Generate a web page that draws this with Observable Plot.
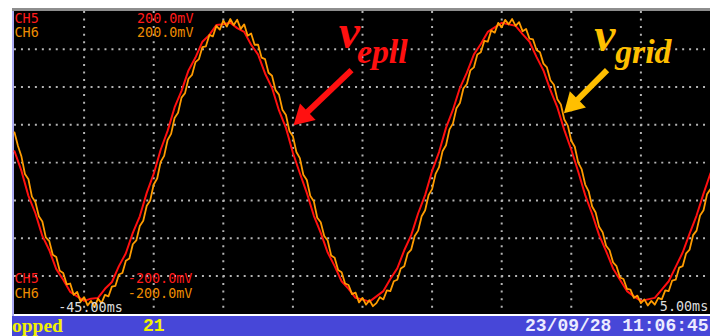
<!DOCTYPE html>
<html><head><meta charset="utf-8">
<script src="https://cdn.jsdelivr.net/npm/d3@7"></script>
<script src="https://cdn.jsdelivr.net/npm/@observablehq/plot@0.6"></script>
<style>
html,body{margin:0;padding:0;background:#fff;}
#wrap{position:relative;width:710px;height:336px;overflow:hidden;background:#fff;}
#topline{position:absolute;left:12px;top:8px;width:698px;height:3px;background:#8e8e8e;}
#leftstrip{position:absolute;left:12px;top:11px;width:2px;height:305px;background:#a9a9f2;}
#chart{position:absolute;left:14px;top:11px;}
#bar{position:absolute;left:12px;top:316px;width:698px;height:20px;background:#4747d8;overflow:hidden;}
#bar span{position:absolute;top:0;line-height:20px;white-space:pre;}
.st{left:0;color:#f2f200;font-family:"Liberation Serif",serif;font-weight:bold;font-size:19.5px;}
.cnt{left:131px;color:#f2f200;font-family:"Liberation Mono",monospace;font-weight:bold;font-size:18px;}
.dt{left:513px;color:#ececff;font-family:"Liberation Mono",monospace;font-weight:bold;font-size:18px;}
</style></head>
<body>
<div id="wrap">
  <div id="topline"></div>
  <div id="leftstrip"></div>
  <div id="chart"></div>
  <div id="bar"><span class="st">opped</span><span class="cnt">21</span><span class="dt">23/09/28 11:06:45</span></div>
</div>
<script>
// time axis (ms) and sample intervals
const tStart = -45, tEnd = 5;
const redStepMs = 0.5, orangeStepMs = 0.25;
// v_epll (CH5, red) samples in mV, every 0.5 ms from -45 ms
const redMv = [
  15, -11, -44, -67, -97, -116, -141, -155, -171, -177, -183, -180, -179, -167, -158, -137, -120, -93, -71, -40,
  -15, 17, 42, 73, 95, 122, 139, 160, 169, 182, 183, 185, 178, 173, 156, 143, 118, 99, 69, 46, 13,
  -14, -40, -70, -93, -119, -137, -157, -167, -179, -181, -184, -177, -170, -154, -140, -116, -96, -67, -43, -11,
  14, 46, 70, 99, 119, 143, 157, 173, 179, 185, 183, 181, 170, 160, 140, 122, 96, 73, 43, 17,
  -12, -43, -68, -96, -117, -140, -155, -170, -177, -183, -181, -179, -168, -157, -138, -119, -94, -70, -41, -14
];
// v_grid (CH6, orange) samples in mV, every 0.25 ms from -45 ms
const orangeMv = [
  40, 22, 8, -15, -22, -45, -52, -71, -78, -99,
  -104, -122, -125, -143, -146, -161, -160, -175, -171, -184,
  -178, -189, -183, -191, -180, -186, -175, -177, -164, -163,
  -148, -146, -130, -127, -108, -103, -84, -77, -57, -50,
  -29, -21, 1, 9, 30, 38, 59, 66, 86, 92,
  111, 116, 133, 137, 153, 154, 169, 167, 181, 176,
  188, 180, 190, 182, 189, 177, 183, 168, 171, 156,
  156, 139, 137, 119, 115, 96, 90, 70, 63, 42,
  35, 14, 6, -16, -23, -44, -51, -73, -79, -97,
  -103, -123, -126, -142, -145, -160, -162, -174, -172, -185,
  -179, -188, -182, -190, -186, -178, -181, -169, -170, -157,
  -155, -140, -137, -120, -115, -97, -90, -71, -63, -43,
  -35, -15, -6, 15, 23, 44, 52, 72, 79, 98,
  104, 122, 126, 143, 146, 161, 160, 175, 172, 185,
  179, 189, 183, 190, 181, 186, 174, 177, 164, 163,
  149, 146, 131, 126, 109, 103, 84, 77, 57, 49,
  29, 21, 0, -9, -29, -38, -58, -66, -85, -92,
  -110, -116, -132, -137, -152, -154, -167, -168, -179, -176,
  -186, -181, -189, -183, -188, -179, -181, -169, -170, -156,
  -155, -139, -137, -120, -115, -96, -90, -70, -63, -42,
  -35
];
// graticule divisions
const gridMs = [-40, -35, -30, -25, -20, -15, -10, -5, 0];
const gridMv = [-150, -100, -50, 0, 50, 100, 150];

// scope readout texts
const readoutText = ["CH5", "200.0mV", "CH6", "200.0mV", "CH5", "-200.0mV", "CH6", "-200.0mV", "-45.00ms", "5.00ms"];
const readoutColor = ["#ff1a1a", "#ff1a1a", "#ee8c00", "#ee8c00", "#ff1a1a", "#ff1a1a", "#ee8c00", "#ee8c00", "#dcdcdc", "#dcdcdc"];
const readoutT = [-45, -36.2, -45, -36.2, -45, -36.86, -45, -36.86, -41.86, 1.36];
const readoutV = [191, 191, 172.5, 172.5, -154, -154, -173.7, -173.7, -192, -191];

// annotations
const annName = ["v", "v"];
const annSub = ["epll", "grid"];
const annColor = ["#ff1010", "#ffbf00"];
const annNameT = [-21.7, -3.35];
const annNameV = [172, 168];
const annSubT = [-20.4, -1.85];
const annSubV = [146, 146];
const arrowTailT = [-20.79, -2.43];
const arrowTailV = [122.4, 122.4];
const arrowHeadT = [-24.27, -4.86];
const arrowHeadV = [61.4, 77.6];
const arrowAngle = [226.5, 225];

const red = redMv.map((v, i) => ({t: tStart + i * redStepMs, v}));
const orange = orangeMv.map((v, i) => ({t: tStart + i * orangeStepMs, v}));
const readouts = readoutText.map((text, i) => ({text, color: readoutColor[i], t: readoutT[i], v: readoutV[i]}));
const ann = annName.map((n, i) => ({
  name: n, sub: annSub[i], color: annColor[i],
  nt: annNameT[i], nv: annNameV[i], st: annSubT[i], sv: annSubV[i],
  t1: arrowTailT[i], v1: arrowTailV[i], t2: arrowHeadT[i], v2: arrowHeadV[i], angle: arrowAngle[i]
}));

const chart = Plot.plot({
  width: 700, height: 305,
  marginTop: 0, marginBottom: 1, marginLeft: 0, marginRight: 0,
  x: {domain: [tStart, tEnd], axis: null},
  y: {domain: [-200, 200], axis: null},
  color: {type: "identity"},
  style: {background: "#000", overflow: "visible"},
  marks: [
    Plot.ruleY(gridMv, {stroke: "#b4b4b4", strokeWidth: 2, strokeDasharray: "2 5"}),
    Plot.ruleX(gridMs, {stroke: "#b4b4b4", strokeWidth: 2, strokeDasharray: "2 5.6"}),
    Plot.line(red, {x: "t", y: "v", stroke: "#ff1010", strokeWidth: 2}),
    Plot.line(orange, {x: "t", y: "v", stroke: "#ff9c00", strokeWidth: 1.8}),
    Plot.text(readouts, {x: "t", y: "v", text: "text", fill: "color", textAnchor: "start",
      fontFamily: "DejaVu Sans Mono", fontSize: 13.5}),
    Plot.link(ann, {x1: "t1", y1: "v1", x2: "t2", y2: "v2", stroke: "color", strokeWidth: 6}),
    Plot.dot(ann, {x: "t2", y: "v2", symbol: "triangle", r: 8.5, fill: "color", stroke: null, rotate: "angle"}),
    Plot.text(ann, {x: "nt", y: "nv", text: "name", fill: "color", textAnchor: "start",
      fontFamily: "Liberation Serif", fontStyle: "italic", fontWeight: "bold", fontSize: 48}),
    Plot.text(ann, {x: "st", y: "sv", text: "sub", fill: "color", textAnchor: "start",
      fontFamily: "Liberation Serif", fontStyle: "italic", fontWeight: "bold", fontSize: 34})
  ]
});
document.getElementById("chart").append(chart);
</script>
</body></html>
